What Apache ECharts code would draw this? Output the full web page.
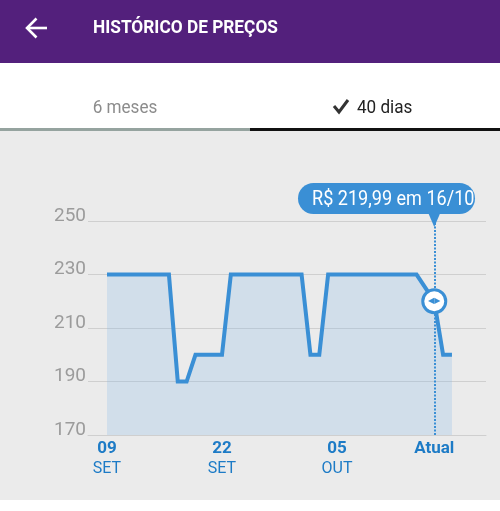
<!DOCTYPE html>
<html>
<head>
<meta charset="utf-8">
<script src="https://cdn.jsdelivr.net/npm/echarts@6/dist/echarts.min.js"></script>
<style>
html,body{margin:0;padding:0;background:#ebebeb;}
#c{width:500px;height:511px;}
</style>
</head>
<body>
<div id="c"></div>
<script>
// ---- data ----
const datas = ['09/09','10/09','11/09','12/09','13/09','14/09','15/09','16/09','17/09','18/09',
  '19/09','20/09','21/09','22/09','23/09','24/09','25/09','26/09','27/09','28/09',
  '29/09','30/09','01/10','02/10','03/10','04/10','05/10','06/10','07/10','08/10',
  '09/10','10/10','11/10','12/10','13/10','14/10','15/10','16/10','17/10','18/10'];
const precos = [229.99,229.99,229.99,229.99,229.99,229.99,229.99,229.99,189.99,189.99,
  199.99,199.99,199.99,199.99,229.99,229.99,229.99,229.99,229.99,229.99,
  229.99,229.99,229.99,199.99,199.99,229.99,229.99,229.99,229.99,229.99,
  229.99,229.99,229.99,229.99,229.99,229.99,224.99,219.99,199.99,199.99];
const tickIndex = [0, 13, 26, 37];
const tickTop = ['09', '22', '05', 'Atual'];
const tickBottom = ['SET', 'SET', 'OUT', ''];
const yTicks = [170, 190, 210, 230, 250];
const atualIndex = 37;
const titulo = 'HISTÓRICO DE PREÇOS';
const abas = ['6 meses', '40 dias'];

const BLUE = '#3a8fd5';
const LABEL_BLUE = '#1d7bc6';
const FONT = 'Roboto';

const chart = echarts.init(document.getElementById('c'), null, {renderer: 'canvas'});

const seriesData = precos.map((v, i) => [i, v]);

function fmtPreco(v) {
  return 'R$ ' + v.toFixed(2).replace('.', ',');
}

const option = {
  backgroundColor: '#ebebeb',
  animation: false,
  textStyle: {fontFamily: FONT},
  grid: {left: 88, right: 14, top: 221, bottom: 76},
  xAxis: {
    type: 'value',
    min: -2.15,
    max: 42.85,
    splitLine: {show: false},
    axisTick: {show: false},
    axisLine: {show: true, onZero: false, lineStyle: {color: '#cfcfcf', width: 1}},
    axisLabel: {
      customValues: tickIndex,
      margin: 4,
      formatter: function (val) {
        const k = tickIndex.indexOf(Math.round(val));
        if (k < 0) return '';
        return '{a|' + tickTop[k] + '}' + (tickBottom[k] ? '\n{b|' + tickBottom[k] + '}' : '');
      },
      rich: {
        a: {fontFamily: FONT, fontSize: 17, fontWeight: 'bold', color: LABEL_BLUE, lineHeight: 20},
        b: {fontFamily: FONT, fontSize: 16, color: LABEL_BLUE, lineHeight: 20}
      }
    }
  },
  yAxis: {
    type: 'value',
    min: yTicks[0],
    max: yTicks[yTicks.length - 1],
    interval: 20,
    axisLine: {show: false},
    axisTick: {show: false},
    splitLine: {show: true, lineStyle: {color: '#cfcfcf', width: 1}},
    axisLabel: {
      margin: 2,
      fontFamily: FONT,
      fontSize: 19,
      color: '#9b9b9b',
      verticalAlign: 'bottom',
      lineHeight: 10
    }
  },
  series: [{
    type: 'line',
    data: seriesData,
    symbol: 'none',
    lineStyle: {color: BLUE, width: 4, join: 'miter'},
    areaStyle: {color: 'rgba(130,185,230,0.36)'},
    z: 3,
    markLine: {
      silent: true,
      symbol: 'none',
      label: {show: false},
      lineStyle: {color: BLUE, width: 2, type: [2, 1.5]},
      data: [{xAxis: atualIndex}]
    },
    markPoint: {
      silent: true,
      data: [{
        coord: [atualIndex, precos[atualIndex]],
        symbol: 'circle',
        symbolSize: 23,
        itemStyle: {color: '#ffffff', borderColor: BLUE, borderWidth: 3},
        label: {show: true, formatter: '◀▶', color: BLUE, fontSize: 8, fontFamily: 'DejaVu Sans', position: 'inside'}
      }]
    }
  }]
};

chart.setOption(option);

// bubble position from the data point through the chart scales
const tip = chart.convertToPixel({gridIndex: 0}, [atualIndex, yTicks[yTicks.length - 1]]);
const bubbleW = 177, bubbleH = 31;
let bx = tip[0] - bubbleW / 2;
if (bx + bubbleW > 475) bx = 475 - bubbleW;
const by = 183;
const bubbleText = fmtPreco(precos[atualIndex]) + ' em ' + datas[atualIndex].slice(0, 5);

chart.setOption({
  graphic: [
    {type: 'rect', shape: {x: 0, y: 0, width: 500, height: 131}, style: {fill: '#ffffff'}, z: 0},
    {type: 'rect', shape: {x: 0, y: 500, width: 500, height: 11}, style: {fill: '#ffffff'}, z: 0},
    {type: 'rect', shape: {x: 0, y: 0, width: 500, height: 63}, style: {fill: '#53207c'}, z: 1},
    {type: 'polyline', shape: {points: [[47, 28], [27, 28]]}, style: {stroke: '#fff', lineWidth: 2.6, fill: null}, z: 2},
    {type: 'polyline', shape: {points: [[36.5, 18.5], [27, 28], [36.5, 37.5]]}, style: {stroke: '#fff', lineWidth: 2.6, fill: null}, z: 2},
    {type: 'text', x: 93, y: 28, scaleX: 0.96, style: {text: titulo, fill: '#fff', font: 'bold 18px Roboto', textVerticalAlign: 'middle'}, z: 2},
    {type: 'text', x: 125, y: 108, scaleX: 0.9, style: {text: abas[0], fill: '#8c8c8c', font: '19px Roboto', textAlign: 'center', textVerticalAlign: 'middle'}, z: 2},
    {type: 'polyline', shape: {points: [[334, 106], [339, 112], [348, 100]]}, style: {stroke: '#333', lineWidth: 3, fill: null}, z: 2},
    {type: 'text', x: 357, y: 108, scaleX: 0.9, style: {text: abas[1], fill: '#222', font: '19px Roboto', textVerticalAlign: 'middle'}, z: 2},
    {type: 'rect', shape: {x: 0, y: 128, width: 250, height: 3}, style: {fill: '#95a39f'}, z: 2},
    {type: 'rect', shape: {x: 250, y: 128, width: 250, height: 3}, style: {fill: '#111'}, z: 2},
    {type: 'rect', shape: {x: bx, y: by, width: bubbleW, height: bubbleH, r: 15.5}, style: {fill: BLUE}, z: 10},
    {type: 'polygon', shape: {points: [[tip[0] - 6, by + bubbleH - 1], [tip[0] + 6, by + bubbleH - 1], [tip[0], 227]]}, style: {fill: BLUE}, z: 10},
    {type: 'text', x: bx + 14, y: by + 16.5, scaleX: 0.86, style: {text: bubbleText, fill: '#fff', font: '21px Roboto', textVerticalAlign: 'middle'}, z: 11}
  ]
});
</script>
</body>
</html>
